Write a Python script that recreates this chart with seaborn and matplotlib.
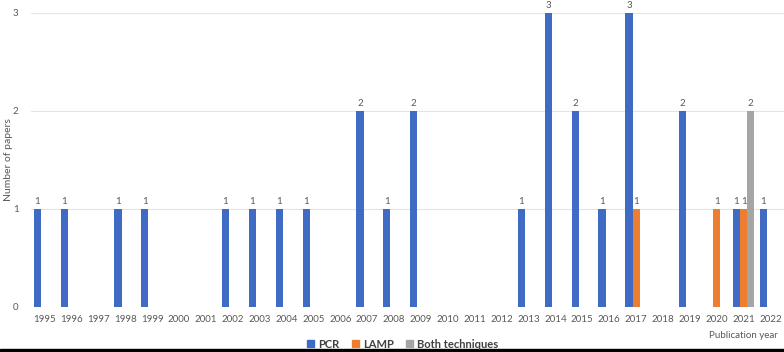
import pandas as pd
import seaborn as sns
import matplotlib.pyplot as plt
from matplotlib.patches import Rectangle

# data
years = [str(y) for y in range(1995, 2023)]
pcr = [1, 1, 0, 1, 1, 0, 0, 1, 1, 1, 1, 0, 2, 1, 2, 0, 0, 0, 1, 3, 2, 1, 3, 0, 2, 0, 1, 1]
lamp = [0] * 22 + [1, 0, 0, 1, 1, 0]
both = [0] * 26 + [2, 0]
series = ["PCR", "LAMP", "Both techniques"]
colors = ["#3F6BC4", "#ED7D31", "#A5A5A5"]

df = pd.DataFrame({
    "year": years * 3,
    "papers": pcr + lamp + both,
    "technique": [s for s in series for _ in years],
})

sns.set_style("white")
plt.rcParams["font.family"] = ["Lato", "DejaVu Sans"]

fig = plt.figure(figsize=(7.84, 3.52), dpi=100)
ax = fig.add_axes([31 / 784, 45 / 352, 753 / 784, 294 / 352])

sns.barplot(data=df, x="year", y="papers", hue="technique", hue_order=series,
            palette=colors, saturation=1, width=0.8, linewidth=0, ax=ax,
            legend=False)

for cont in ax.containers:
    labels = [f"{int(b.get_height())}" if b.get_height() > 0 else "" for b in cont]
    ax.bar_label(cont, labels=labels, padding=2, fontsize=7, color="#595959")

ax.set_ylim(0, 3)
ax.set_yticks([0, 1, 2, 3])
ax.grid(axis="y", color="#E4E4E4", linewidth=0.8)
ax.set_axisbelow(True)
for s in ax.spines.values():
    s.set_visible(False)
ax.tick_params(axis="both", length=0, labelsize=7, labelcolor="#595959")
ax.tick_params(axis="x", pad=6)
ax.tick_params(axis="y", pad=9)
ax.set_xlabel("")
ax.set_ylabel("Number of papers", fontsize=7.5, color="#595959")
ax.yaxis.set_label_coords(-18 / 753, 0.5)

fig.text(778 / 784, 1 - 336 / 352, "Publication year", ha="right", va="center",
         fontsize=7, color="#595959")

handles = [Rectangle((0, 0), 1, 1, color=c) for c in colors]
fig.legend(handles, series, loc="center", bbox_to_anchor=(403 / 784, 1 - 344 / 352),
           ncol=3, frameon=False, handlelength=0.6, handleheight=0.6,
           handletextpad=0.4, columnspacing=1.1, borderpad=0,
           prop={"size": 8, "weight": "bold"}, labelcolor="#404040")

fig.add_artist(Rectangle((0, 0), 1, 3 / 352, transform=fig.transFigure,
                         color="black"))

fig.savefig("out.png", dpi=100)
